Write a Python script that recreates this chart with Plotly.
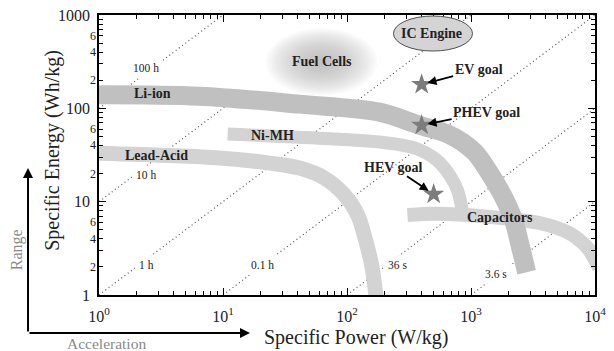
import math
import plotly.graph_objects as go

# ---------------- data ----------------
# technology bands: centre line of each band (Specific Power W/kg, Specific Energy Wh/kg)
lead_acid_power = [1.0, 9.4, 23.7, 41.4, 65.8, 95.5, 122, 141, 158, 173]
lead_acid_energy = [33, 29.4, 25.9, 22.9, 17.9, 11.8, 7.2, 3.9, 2.1, 0.88]

nimh_power = [10.9, 41, 183, 350, 527, 671, 778, 854]
nimh_energy = [53, 49, 43.6, 37.6, 28, 19.3, 13.3, 7.8]

capacitor_power = [307, 557, 1700, 3570, 6200, 8700, 10800]
capacitor_energy = [7.2, 7.4, 6.7, 5.9, 4.6, 3.2, 1.95]

li_ion_power = [1.0, 6.5, 41, 183, 384, 671, 1067, 1360, 1790, 2200, 2490, 2810]
li_ion_energy = [140, 135, 111, 91, 66, 52, 34, 21.8, 11.8, 6.4, 3.4, 1.75]

# constant discharge-time lines (hours) and their labels
time_constants_h = [100, 10, 1, 0.1, 0.01, 0.001]
time_labels = ["100 h", "10 h", "1 h", "0.1 h", "36 s", "3.6 s"]
time_power_start = [1, 1, 1, 10, 100, 1000]
time_power_end = [10, 11, 1000, 10000, 10000, 10000]

# goals
goal_names = ["EV goal", "PHEV goal", "HEV goal"]
goal_power = [400, 400, 500]
goal_energy = [180, 66, 12]

# other regions
fuel_cell_power = 62.3
fuel_cell_energy = 314
ic_engine_power = [237, 1028]
ic_engine_energy = [411, 975]

# ticks
x_tick_vals = [1, 10, 100, 1000, 10000]
x_tick_text = ["10<sup>0</sup>", "10<sup>1</sup>", "10<sup>2</sup>", "10<sup>3</sup>", "10<sup>4</sup>"]
y_tick_vals = [1, 10, 100, 1000]
y_tick_text = ["1", "10", "100", "1000"]
y_minor_label_vals = [2, 4, 6, 20, 40, 60, 200, 400, 600]
y_minor_label_text = ["2", "4", "6", "2", "4", "6", "2", "4", "6"]

# ---------------- figure ----------------
FONT = "Liberation Serif"
fig = go.Figure()

# dotted constant-time lines
for t, p0, p1 in zip(time_constants_h, time_power_start, time_power_end):
    fig.add_trace(go.Scatter(
        x=[p0, p1], y=[p0 * t, p1 * t], mode="lines",
        line=dict(color="#555555", width=1.2, dash="1px,3px"),
        hoverinfo="skip", showlegend=False))

# bands
bands = [
    (lead_acid_power, lead_acid_energy, "#d3d3d3", 15),
    (nimh_power, nimh_energy, "#d3d3d3", 13),
    (capacitor_power, capacitor_energy, "#d3d3d3", 14),
    (li_ion_power, li_ion_energy, "#c0c0c0", 19),
]
for px, py, col, w in bands:
    fig.add_trace(go.Scatter(
        x=px, y=py, mode="lines",
        line=dict(color=col, width=w, shape="spline", smoothing=0.9),
        hoverinfo="skip", showlegend=False))

# goal stars
fig.add_trace(go.Scatter(
    x=goal_power, y=goal_energy, mode="markers",
    marker=dict(symbol="star", size=16, color="#7c7c7c", line=dict(width=0)),
    hoverinfo="skip", showlegend=False))

shapes = []
# fuel cell blurred blob (stacked translucent ellipses)
rx, ry = 0.45, 0.36  # half extents in decades
N = 16
for k in range(N, 0, -1):
    s = (k / N) ** 0.8
    shapes.append(dict(
        type="circle", xref="x", yref="y", layer="below",
        x0=fuel_cell_power * 10 ** (-rx * s), x1=fuel_cell_power * 10 ** (rx * s),
        y0=fuel_cell_energy * 10 ** (-ry * s), y1=fuel_cell_energy * 10 ** (ry * s),
        fillcolor="#a0a0a0", opacity=0.05, line=dict(width=0)))
# IC engine ellipse
shapes.append(dict(
    type="circle", xref="x", yref="y", layer="above",
    x0=ic_engine_power[0], x1=ic_engine_power[1],
    y0=ic_engine_energy[0], y1=ic_engine_energy[1],
    fillcolor="#d4d4d4", line=dict(color="#505050", width=1)))

L = math.log10
ann = []


def txt(p, e, s, size=14, bold=True, **kw):
    d = dict(x=L(p), y=L(e), xref="x", yref="y",
             text=("<b>%s</b>" % s) if bold else s, showarrow=False,
             font=dict(family=FONT, size=size, color="#222222"))
    d.update(kw)
    ann.append(d)


txt(2.70, 142.5, "Li-ion")
txt(2.91, 31.6, "Lead-Acid")
txt(25.1, 51.8, "Ni-MH")
txt(1698, 6.85, "Capacitors")
txt(fuel_cell_power, fuel_cell_energy, "Fuel Cells")
txt(480, 641, "IC Engine")

# time labels
time_label_pos = [(2.4, 270), (2.4, 19.3), (2.4, 2.1), (21, 2.1), (255, 2.1), (1580, 1.68)]
for (p, e), s in zip(time_label_pos, time_labels):
    txt(p, e, s, size=11.5, bold=False, bgcolor="white", borderpad=3)

# goal arrows
goal_offsets = [(57, -15), (65, -13), (-40, -27)]
for p, e, name, (ax, ay) in zip(goal_power, goal_energy, goal_names, goal_offsets):
    ann.append(dict(x=L(p), y=L(e), xref="x", yref="y", text="<b>%s</b>" % name,
                    showarrow=True, ax=ax, ay=ay, arrowhead=2, arrowsize=1,
                    arrowwidth=1.8, arrowcolor="black", standoff=6,
                    font=dict(family=FONT, size=14, color="#222222")))

# minor y labels
for v, s in zip(y_minor_label_vals, y_minor_label_text):
    ann.append(dict(x=0, y=L(v), xref="paper", yref="y", text=s, showarrow=False,
                    xanchor="right", yanchor="middle", xshift=-1,
                    font=dict(family=FONT, size=12, color="#222")))


def paper_text(x, y, s, size, color, angle=0):
    ann.append(dict(x=x, y=y, xref="paper", yref="paper", text=s, showarrow=False,
                    xanchor="center", yanchor="middle", textangle=angle,
                    font=dict(family=FONT, size=size, color=color)))


# axis titles
paper_text(0.518, -0.15, "Specific Power (W/kg)", 20, "#222")
paper_text(-0.093, 0.518, "Specific Energy (Wh/kg)", 20, "#222", -90)
# Range / Acceleration
paper_text(-0.1653, 0.16, "Range", 16, "#8a8a8a", -90)
paper_text(0.016, -0.1715, "Acceleration", 15.5, "#8a8a8a")
ann.append(dict(x=-0.1431, y=0.4536, xref="paper", yref="paper", text="", showarrow=True,
                ax=0, ay=165, arrowhead=2, arrowsize=1, arrowwidth=2, arrowcolor="black"))
ann.append(dict(x=0.3044, y=-0.1357, xref="paper", yref="paper", text="", showarrow=True,
                ax=-222, ay=0, arrowhead=2, arrowsize=1, arrowwidth=2, arrowcolor="black"))

axis_common = dict(type="log", showgrid=False, zeroline=False, showline=True,
                   linecolor="black", linewidth=1.5, mirror="ticks", ticks="inside",
                   ticklen=7, tickwidth=1.2, tickcolor="black", automargin=False,
                   ticklabeloverflow="allow",
                   minor=dict(ticks="inside", ticklen=4, tickwidth=1, tickcolor="black",
                              dtick="D1", showgrid=False))

# the page body has an 8px margin, so the figure is sized/margined to compensate
fig.update_layout(
    template="none",
    width=606, height=343, autosize=False,
    margin=dict(l=91, r=19, t=7, b=56, pad=0),
    plot_bgcolor="white", paper_bgcolor="white",
    font=dict(family=FONT, color="#222"),
    xaxis=dict(axis_common, range=[0, 4], tickvals=x_tick_vals, ticktext=x_tick_text,
               tickfont=dict(family=FONT, size=16), ticklabelstandoff=6),
    yaxis=dict(axis_common, range=[0, 3], tickvals=y_tick_vals, ticktext=y_tick_text,
               tickfont=dict(family=FONT, size=16), ticklabelstandoff=4),
    shapes=shapes, annotations=ann, showlegend=False,
)

fig.write_html("out.html")
